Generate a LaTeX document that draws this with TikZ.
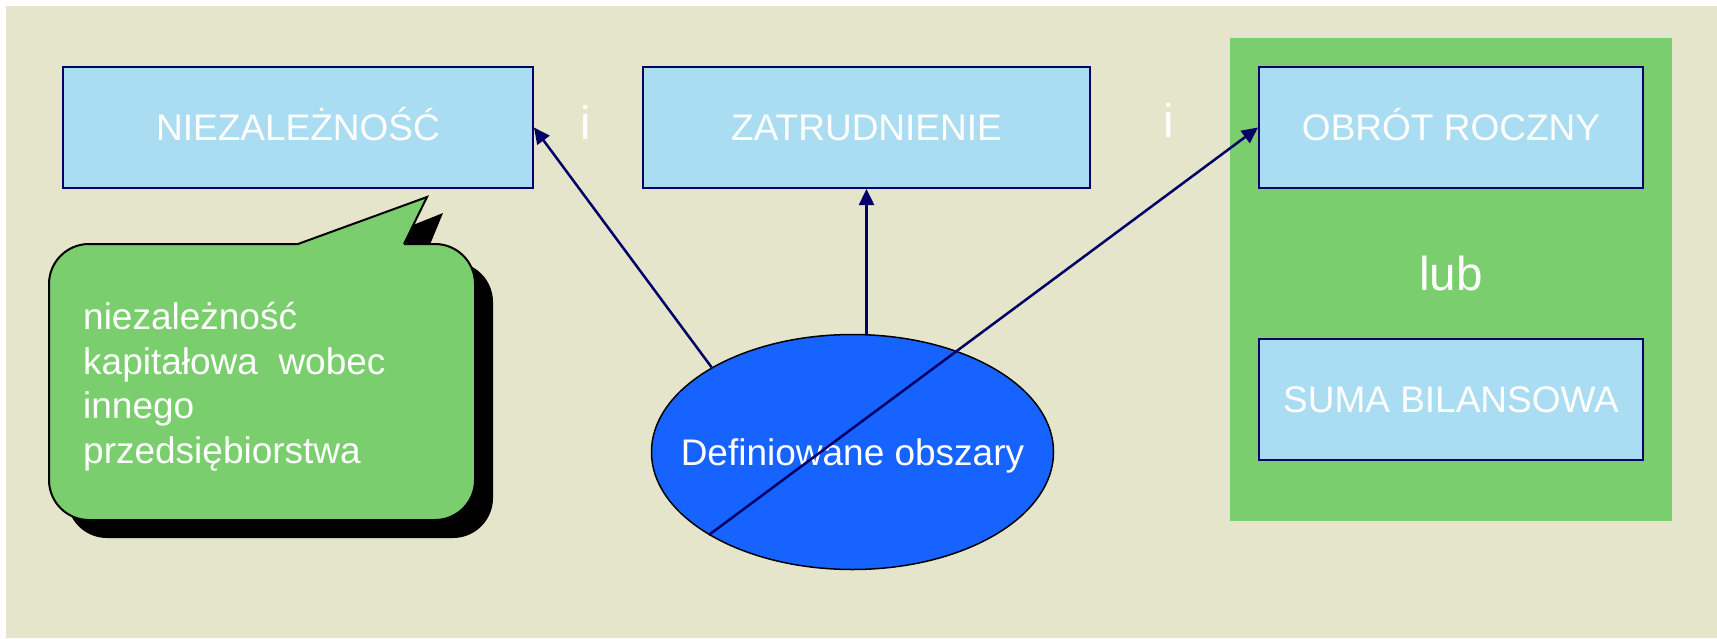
\documentclass[tikz,border=0pt]{standalone}
\usepackage{fontspec}
\setmainfont{Liberation Sans}
\usetikzlibrary{shapes.geometric,arrows.meta}
\definecolor{bgbeige}{HTML}{E5E5CC}
\definecolor{boxblue}{HTML}{ABDDF2}
\definecolor{navy}{HTML}{000066}
\definecolor{grn}{HTML}{7ACE6D}
\definecolor{ellblue}{HTML}{1763FF}
\begin{document}
\begin{tikzpicture}[x=1pt,y=-1pt,
  box/.style={draw=navy,line width=2pt,fill=boxblue,text=white,
    font=\fontsize{37}{44}\selectfont,minimum height=121pt,inner sep=0pt,
    text height=26.5pt,text depth=0pt},
  arr/.style={draw=navy,line width=2.5pt,-{Triangle[length=16pt,width=15pt]}},
  bigtxt/.style={text=white,font=\fontsize{47}{56}\selectfont,inner sep=0pt,anchor=base},
  callout/.style={line width=2pt,rounded corners=40pt}]
  % background
  \fill[white] (0,0) rectangle (1717,638);
  \useasboundingbox (0,0) rectangle (1717,638);
  \fill[bgbeige] (6,6) rectangle (1717,638);
  \fill[grn] (1230,38) rectangle (1672,521);

  % callout shadow
  \begin{scope}[shift={(18,18)}]
    \fill[black,rounded corners=40pt] (49,244) rectangle (475,520);
    \fill[black] (298,246) -- (425,195) -- (404,246) -- cycle;
  \end{scope}
  % callout body
  \fill[grn,rounded corners=40pt] (49,244) rectangle (475,520);
  \fill[grn] (298,245) -- (427,197) -- (404,245) -- cycle;
  \draw[black,callout] (404,244) -- (475,244) -- (475,520) -- (49,520) -- (49,244) -- (298,244);
  \draw[black,line width=2pt,line join=miter] (298,244) -- (427,197) -- (404,244);
  \node[text=white,font=\fontsize{37}{44.6}\selectfont,align=left,inner sep=0pt,anchor=north west]
    (note) at (83,302) {niezależność\\kapitałowa\ \ wobec\\innego\\przedsiębiorstwa};

  % boxes
  \node[box,minimum width=470pt] (niez) at (298,127.5) {NIEZALEŻNOŚĆ};
  \node[box,minimum width=447pt] (zatr) at (866.5,127.5) {ZATRUDNIENIE};
  \node[box,minimum width=384pt] (obrot) at (1451,127.5) {OBRÓT ROCZNY};
  \node[box,minimum width=384pt] (suma) at (1451,399.5) {SUMA BILANSOWA};

  % connective words
  \node[bigtxt] (i1) at (586,139) {i};
  \node[bigtxt] (i2) at (1169,137) {i};
  \node[bigtxt,font=\fontsize{47.6}{56}\selectfont] (lub) at (1451,290) {lub};

  % ellipse
  \node[ellipse,draw=black,line width=1.5pt,fill=ellblue,
    minimum width=402pt,minimum height=235pt,inner sep=0pt] (ell) at (852.5,452) {};
  \node[text=white,font=\fontsize{37}{44}\selectfont,text height=26.5pt,text depth=0pt,inner sep=0pt]
    (elltext) at (ell.center) {Definiowane obszary};

  % arrows
  \draw[arr] (ell.149.7) -- (niez.east);
  \draw[arr] (zatr.south |- ell.north) -- (zatr.south);
  \draw[arr] (ell.210.2) -- (obrot.west);
\end{tikzpicture}
\end{document}
